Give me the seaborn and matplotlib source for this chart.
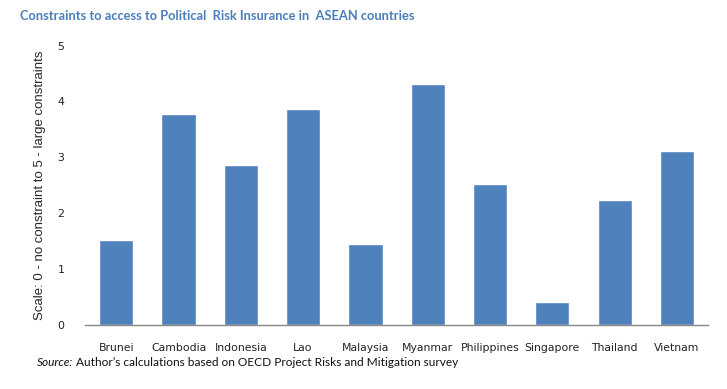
import pandas as pd
import seaborn as sns
import matplotlib.pyplot as plt

# 各国数据
countries = ['Brunei', 'Cambodia', 'Indonesia', 'Lao', 'Malaysia',
             'Myanmar', 'Philippines', 'Singapore', 'Thailand', 'Vietnam']
scores = [1.51, 3.77, 2.86, 3.86, 1.45, 4.31, 2.52, 0.41, 2.24, 3.11]

sns.set_theme(style="white")
plt.rcParams['font.family'] = ['DejaVu Sans']

df = pd.DataFrame({'country': countries, 'score': scores})

fig = plt.figure(figsize=(7.27, 3.89), dpi=100)
ax = fig.add_axes([0.117, 0.165, 0.857, 0.718])
sns.barplot(data=df, x='country', y='score', color='#4F81BD', saturation=1,
            width=0.55, ax=ax)

ax.set_ylim(0, 5)
ax.set_xlim(-0.5, len(countries) - 0.5)
ax.set_yticks(range(6))
ax.tick_params(axis='both', length=0, labelsize=7.8, colors='#222222')
ax.tick_params(axis='x', pad=13)
ax.tick_params(axis='y', pad=15)
ax.set_xlabel('')
ax.set_ylabel('Scale: 0 - no constraint to 5 - large constraints',
              family='Liberation Sans', fontsize=9.5, labelpad=8)
for s in ['top', 'right', 'left']:
    ax.spines[s].set_visible(False)
ax.spines['bottom'].set_color('#888888')
ax.spines['bottom'].set_linewidth(1)

fig.text(0.028, 0.958, 'Constraints to access to Political  Risk Insurance in  ASEAN countries',
         family='Lato', fontsize=9.3, fontweight='bold', color='#4A7EBB', va='center')
t = fig.text(0.051, 0.069, 'Source:', family='Lato', fontstyle='italic', fontsize=8.6,
             va='center', color='#111111')
fig.canvas.draw()
bb = t.get_window_extent()
x1 = bb.x1 / fig.bbox.width
fig.text(x1 + 0.004, 0.069, 'Author\u2019s calculations based on OECD Project Risks and Mitigation survey',
         family='Lato', fontsize=8.6, va='center', color='#111111')

fig.savefig('out.png', dpi=100)
